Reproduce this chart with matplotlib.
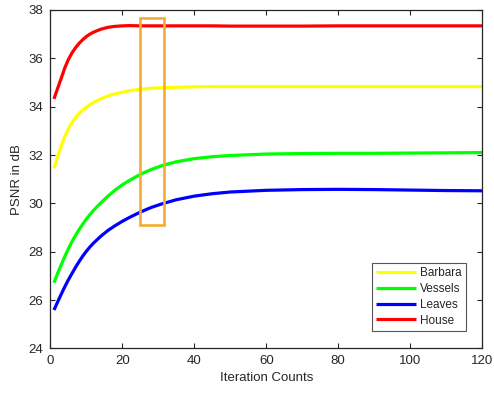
import matplotlib
matplotlib.use("Agg")
import matplotlib.pyplot as plt
from matplotlib.patches import Rectangle

plt.rcParams["font.family"] = ["Liberation Sans", "DejaVu Sans"]

# iteration counts at which PSNR values were read
iters = [1, 2, 3, 4, 5, 6, 7, 8, 9, 10, 11, 12, 14, 16, 18, 20, 22, 25, 28,
         31, 35, 40, 45, 50, 60, 70, 80, 90, 100, 110, 120]

psnr_barbara = [31.45, 31.92, 32.37, 32.76, 33.08, 33.34, 33.55, 33.72, 33.86,
                33.98, 34.08, 34.17, 34.32, 34.44, 34.53, 34.60, 34.66, 34.72,
                34.76, 34.78, 34.80, 34.82, 34.83, 34.83, 34.83, 34.83, 34.83,
                34.83, 34.83, 34.83, 34.83]
psnr_vessels = [26.72, 27.10, 27.46, 27.80, 28.12, 28.42, 28.68, 28.92, 29.14,
                29.35, 29.54, 29.71, 30.02, 30.30, 30.55, 30.77, 30.95, 31.20,
                31.40, 31.56, 31.72, 31.85, 31.93, 31.98, 32.04, 32.06, 32.07,
                32.07, 32.08, 32.09, 32.10]
psnr_leaves = [25.59, 25.92, 26.24, 26.55, 26.84, 27.10, 27.36, 27.60, 27.82,
               28.02, 28.20, 28.36, 28.64, 28.88, 29.08, 29.26, 29.42, 29.64,
               29.83, 29.98, 30.15, 30.30, 30.40, 30.47, 30.54, 30.57, 30.58,
               30.57, 30.55, 30.53, 30.52]
psnr_house = [34.32, 34.75, 35.17, 35.60, 35.95, 36.22, 36.44, 36.62, 36.77,
              36.90, 37.00, 37.08, 37.20, 37.28, 37.32, 37.34, 37.35, 37.34,
              37.34, 37.34, 37.34, 37.34, 37.34, 37.33, 37.33, 37.33, 37.34,
              37.34, 37.34, 37.34, 37.34]

series = [
    ("Barbara", psnr_barbara, "#FFFF00"),
    ("Vessels", psnr_vessels, "#00FF00"),
    ("Leaves", psnr_leaves, "#0000FF"),
    ("House", psnr_house, "#FF0000"),
]

# highlighted region (iterations, dB)
box_x = [25, 31.7]
box_y = [29.1, 37.67]

TEXT = "#262626"

fig = plt.figure(figsize=(4.94, 3.96), dpi=100)
ax = fig.add_axes([0.102, 0.120, 0.874, 0.855])

for name, vals, color in series:
    ax.plot(iters, vals, color=color, linewidth=2.3, label=name,
            solid_capstyle="butt", solid_joinstyle="round")

ax.add_patch(Rectangle((box_x[0], box_y[0]), box_x[1] - box_x[0],
                       box_y[1] - box_y[0], fill=False,
                       edgecolor="#F0AD30", linewidth=1.9, zorder=5))

ax.set_xlim(0, 120)
ax.set_ylim(24, 38)
ax.set_xticks(range(0, 121, 20))
ax.set_yticks(range(24, 39, 2))
ax.tick_params(direction="in", top=True, right=True, length=3.5,
               width=0.8, labelsize=9.5, colors=TEXT, labelcolor=TEXT, pad=5)
for sp in ax.spines.values():
    sp.set_color(TEXT)
    sp.set_linewidth(0.9)

ax.set_xlabel("Iteration Counts", fontsize=9.5, color=TEXT, labelpad=3)
ax.set_ylabel("PSNR in dB", fontsize=9.5, color=TEXT, labelpad=4)

leg = ax.legend(loc="upper left", bbox_to_anchor=(0.745, 0.252),
                fontsize=8.5, handlelength=3.4, handletextpad=0.3,
                labelspacing=0.32, borderpad=0.35, borderaxespad=0,
                fancybox=False, framealpha=1, edgecolor="#555555")
leg.get_frame().set_linewidth(0.8)
for t in leg.get_texts():
    t.set_color(TEXT)

fig.savefig("out.png", dpi=100)
